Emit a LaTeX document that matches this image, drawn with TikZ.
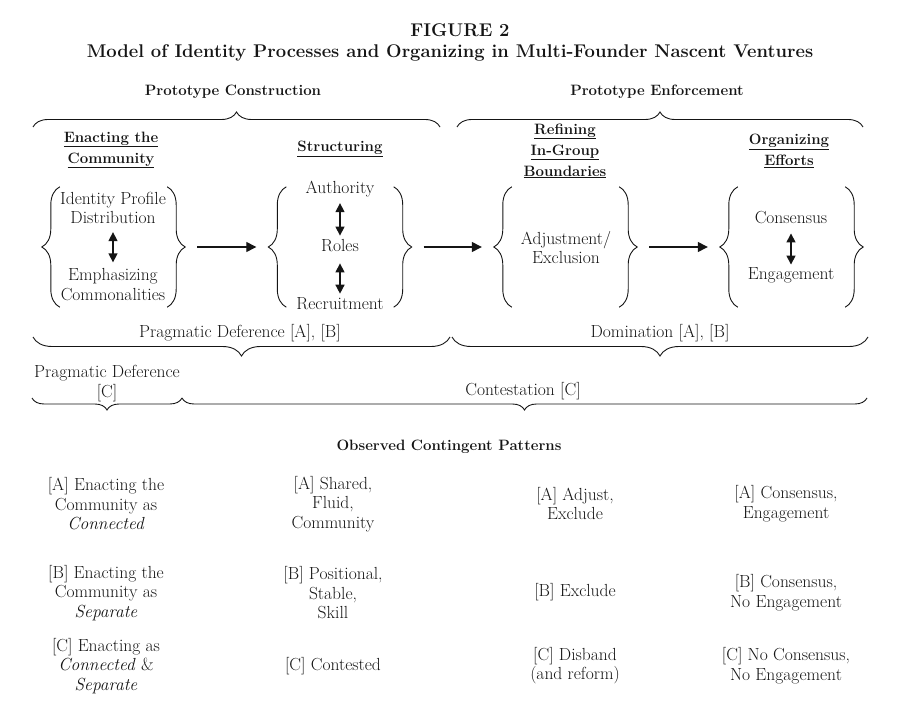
\documentclass[tikz,border=0pt]{standalone}
\usetikzlibrary{arrows.meta,decorations.pathreplacing,positioning}
\definecolor{ink}{HTML}{151515}
\tikzset{
  txt/.style={font=\fontsize{17.5}{19.5}\selectfont, align=center, inner sep=0pt, text=ink},
  hd/.style={font=\fontsize{15}{21}\selectfont\bfseries, align=center, inner sep=0pt, text=ink},
  box/.style={minimum width=143pt, minimum height=120pt, inner sep=0pt},
  brc/.style={decorate, decoration={brace, amplitude=#1}, draw=ink, line width=0.9pt},
  flow/.style={-{Triangle[width=10pt,length=10pt]}, line width=1.3pt, draw=ink, shorten <=12pt, shorten >=12pt},
  link/.style={{Triangle[width=9pt,length=9pt]}-{Triangle[width=9pt,length=9pt]}, line width=1.5pt, draw=ink},
}
\begin{document}
\begin{tikzpicture}[x=1pt, y=-1pt]
  \useasboundingbox (0,0) rectangle (921,711);

  % title
  \node[hd, font=\fontsize{18.4}{23}\selectfont\bfseries] (fig) at (460,30) {FIGURE 2};
  \node[hd, font=\fontsize{18.4}{23}\selectfont\bfseries] (ttl) at (450,53) {Model of Identity Processes and Organizing in Multi-Founder Nascent Ventures};

  % phases
  \node[hd] (pc) at (233,92) {Prototype Construction};
  \node[hd] (pe) at (657,92) {Prototype Enforcement};
  \draw[brc=15pt] (33,127) -- (440,127);
  \draw[brc=15pt] (457,127) -- (863,127);

  \node[hd] (enact) at (111,150) {\underline{Enacting the}\\\underline{Community}};
  \node[hd] (struct) at (340,149) {\underline{Structuring}};
  \node[hd] (refine) at (565,151) {\underline{Refining}\\\underline{In-Group}\\\underline{Boundaries}};
  \node[hd] (organize) at (789,151) {\underline{Organizing}\\\underline{Efforts}};

  % the four bracketed boxes
  \node[box] (b1) at (113.5,247) {};
  \node[box] (b2) at (340,247) {};
  \node[box] (b3) at (565.5,247) {};
  \node[box] (b4) at (791.5,247) {};
  \foreach \b in {b1,b2,b3,b4}{
    \draw[brc=18pt] ([xshift=18pt]\b.south west) -- ([xshift=18pt]\b.north west);
    \draw[brc=18pt] ([xshift=-18pt]\b.north east) -- ([xshift=-18pt]\b.south east);
  }
  \draw[flow] (b1) -- (b2);
  \draw[flow] (b2) -- (b3);
  \draw[flow] (b3) -- (b4);

  % box contents
  \node[txt] (idp) at (113,208) {Identity Profile\\Distribution};
  \node[txt] (emph) at (113,284.5) {Emphasizing\\Commonalities};
  \draw[link, shorten <=8pt, shorten >=6pt] (idp) -- (emph);

  \node[txt] (auth) at (340,189) {Authority};
  \node[txt] (roles) at (340,246) {Roles};
  \node[txt] (recr) at (340,304) {Recruitment};
  \draw[link, shorten <=6pt, shorten >=4pt] (auth) -- (roles);
  \draw[link, shorten <=11pt, shorten >=4pt] (roles) -- (recr);

  \node[txt] (adj) at (566,247.5) {Adjustment/\\Exclusion};

  \node[txt] (cons) at (791,218) {Consensus};
  \node[txt] (eng) at (791,275) {Engagement};
  \draw[link, shorten <=9pt, shorten >=2.5pt] (cons) -- (eng);

  % modes of identity work
  \node[txt] (prag) at (240,333) {Pragmatic Deference [A], [B]};
  \node[txt] (dom) at (660,333) {Domination [A], [B]};
  \draw[brc=19pt] (450,337) -- (33,337);
  \draw[brc=19pt] (868,337) -- (452,337);

  \node[txt] (pragc) at (107,383.5) {Pragmatic Deference\\{[C]}};
  \node[txt] (cont) at (523,391) {Contestation [C]};
  \draw[brc=12pt] (182,398) -- (32,398);
  \draw[brc=12pt] (867,398) -- (182,398);

  % contingent patterns
  \node[hd] (obs) at (449,447) {Observed Contingent Patterns};

  \node[txt] (c1a) at (106,504) {[A] Enacting the\\Community as\\\textit{Connected}};
  \node[txt] (c1b) at (106,593) {[B] Enacting the\\Community as\\\textit{Separate}};
  \node[txt] (c1c) at (106,666) {[C] Enacting as\\\textit{Connected} \&\\\textit{Separate}};

  \node[txt] (c2a) at (333,504) {[A] Shared,\\Fluid,\\Community};
  \node[txt] (c2b) at (333,593) {[B] Positional,\\Stable,\\Skill};
  \node[txt] (c2c) at (333,666) {[C] Contested};

  \node[txt] (c3a) at (575,503.5) {[A] Adjust,\\Exclude};
  \node[txt] (c3b) at (575,592) {[B] Exclude};
  \node[txt] (c3c) at (575,665.5) {[C] Disband\\(and reform)};

  \node[txt] (c4a) at (786,503.5) {[A] Consensus,\\Engagement};
  \node[txt] (c4b) at (786,592.5) {[B] Consensus,\\No Engagement};
  \node[txt] (c4c) at (786,665.5) {[C] No Consensus,\\No Engagement};
\end{tikzpicture}
\end{document}
